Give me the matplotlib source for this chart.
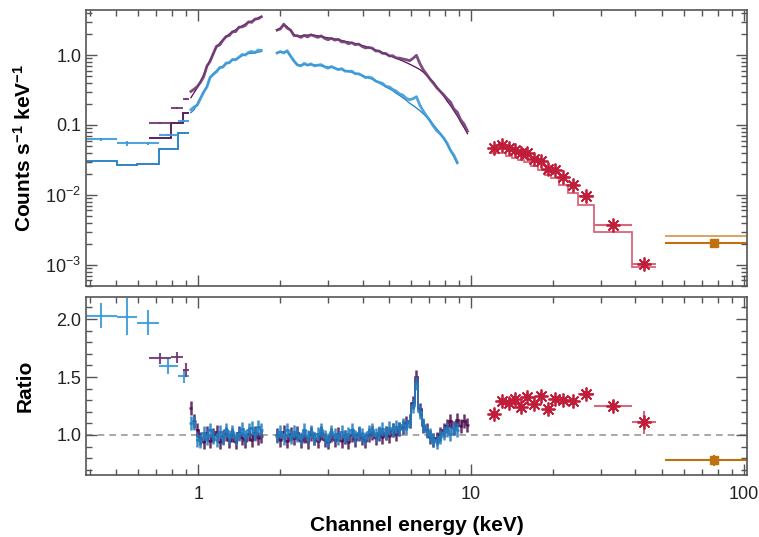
import matplotlib.pyplot as plt
import numpy as np
from matplotlib.ticker import LogLocator, MultipleLocator, NullFormatter

plt.rcParams['font.family'] = ['Liberation Sans', 'DejaVu Sans']
plt.rcParams['mathtext.fontset'] = 'custom'
plt.rcParams['mathtext.rm'] = 'Liberation Sans'
plt.rcParams['mathtext.default'] = 'regular'

# --- colours
pur_dark, pur_light = '#4e1050', '#6e3872'
blue_dark, blue_light = '#1f7cc0', '#3b9ad8'
red_dark, red_light = '#c01d3a', '#d9667a'
org_dark, org_light = '#c0700f', '#d99a52'

# --- low energy coarse bins (keV)
blue_edges = [0.388, 0.504, 0.598, 0.719, 0.842, 0.929]
blue_coarse_model = [0.0308, 0.0271, 0.0278, 0.045, 0.076]
blue_coarse_ratio = [2.03, 2.02, 1.97, 1.595, 1.51]
blue_coarse_err = [0.11, 0.16, 0.11, 0.065, 0.06]

pur_edges = [0.662, 0.796, 0.879, 0.929]
pur_coarse_model = [0.065, 0.106, 0.15]
pur_coarse_ratio = [1.66, 1.67, 1.56]
pur_coarse_err = [0.05, 0.05, 0.06]

# --- dense segment below the gap (keV)
seg_a_e = [0.940, 0.966, 0.992, 1.019, 1.047, 1.076, 1.105, 1.136, 1.167, 1.199,
           1.231, 1.265, 1.300, 1.335, 1.372, 1.410, 1.448, 1.488, 1.529, 1.571,
           1.614, 1.658, 1.703]
pur_a_model = [0.245, 0.29, 0.34, 0.42, 0.52, 0.68, 0.85, 1.05, 1.30, 1.48,
               1.65, 1.82, 2.00, 2.15, 2.30, 2.45, 2.60, 2.78, 2.95, 3.05,
               3.20, 3.40, 3.55]
pur_a_ratio = [1.23, 1.12, 1.04, 0.97, 0.94, 1.02, 0.95, 1.00, 1.03, 0.94,
               0.98, 1.01, 0.95, 1.00, 0.94, 1.02, 0.97, 0.95, 1.01, 0.96,
               1.02, 0.97, 0.99]
blue_a_model = [0.15, 0.165, 0.20, 0.25, 0.29, 0.36, 0.46, 0.54, 0.60, 0.645,
                0.69, 0.74, 0.79, 0.84, 0.88, 0.92, 0.97, 1.02, 1.05, 1.06,
                1.07, 1.10, 1.12]
blue_a_ratio = [1.10, 1.10, 0.96, 0.95, 1.02, 0.97, 1.04, 0.98, 0.96, 1.03,
                0.97, 1.04, 0.98, 1.03, 0.97, 1.01, 1.05, 0.98, 1.04, 1.06,
                1.01, 1.07, 1.04]

# --- dense segment above the gap (keV)
seg_b_e = [1.945, 2.000, 2.058, 2.118, 2.180, 2.244, 2.309, 2.376, 2.445, 2.516,
           2.590, 2.665, 2.743, 2.823, 2.905, 2.989, 3.076, 3.166, 3.258, 3.353,
           3.450, 3.551, 3.654, 3.761, 3.870, 3.983, 4.099, 4.218, 4.341, 4.467,
           4.597, 4.731, 4.869, 5.011, 5.157, 5.307, 5.461, 5.620, 5.784, 5.952,
           6.125, 6.304, 6.487, 6.676, 6.870, 7.070, 7.276, 7.488, 7.706, 7.930,
           8.161, 8.399, 8.643, 8.895, 9.154, 9.420, 9.694]
pur_b_model = [2.27, 2.45, 2.68, 2.55, 2.25, 1.95, 1.85, 1.88, 1.92, 1.93,
               1.93, 1.92, 1.88, 1.84, 1.80, 1.76, 1.73, 1.70, 1.66, 1.62,
               1.57, 1.54, 1.50, 1.46, 1.42, 1.37, 1.33, 1.28, 1.23, 1.18,
               1.13, 1.08, 1.03, 0.98, 0.94, 0.90, 0.86, 0.82, 0.78, 0.74,
               0.70, 0.66, 0.62, 0.57, 0.51, 0.46, 0.41, 0.35, 0.30, 0.26,
               0.22, 0.19, 0.16, 0.135, 0.11, 0.092, 0.075]
pur_b_ratio = [1.00, 0.96, 1.03, 0.95, 1.01, 0.97, 1.02, 0.95, 0.99, 0.94,
               1.01, 0.97, 0.95, 1.02, 0.96, 0.94, 1.00, 0.96, 1.01, 0.95,
               0.98, 0.94, 1.00, 0.96, 1.01, 0.97, 0.95, 1.00, 1.02, 0.97,
               1.01, 0.98, 1.02, 0.99, 1.04, 1.01, 1.05, 1.07, 1.10, 1.12,
               1.28, 1.50, 1.22, 1.08, 1.04, 0.98, 0.96, 0.97, 1.01, 1.04,
               1.08, 1.12, 1.06, 1.13, 1.08, 1.12, 1.09]
blue_b_model = [1.08, 1.09, 1.10, 1.11, 0.98, 0.80, 0.72, 0.72, 0.73, 0.73,
                0.725, 0.72, 0.71, 0.70, 0.69, 0.675, 0.665, 0.65, 0.635, 0.62,
                0.60, 0.58, 0.565, 0.55, 0.53, 0.51, 0.49, 0.47, 0.45, 0.425,
                0.40, 0.375, 0.35, 0.33, 0.31, 0.285, 0.265, 0.245, 0.225, 0.205,
                0.19, 0.175, 0.16, 0.145, 0.13, 0.115, 0.10, 0.088, 0.076, 0.064,
                0.053, 0.043, 0.035, 0.028]
blue_b_ratio = [0.99, 1.03, 0.97, 1.04, 0.98, 1.03, 1.00, 0.97, 1.04, 0.98,
                1.03, 0.97, 1.01, 1.04, 0.98, 0.96, 1.03, 1.00, 0.97, 1.03,
                0.98, 1.01, 1.04, 0.98, 1.02, 1.00, 0.97, 1.03, 1.04, 1.00,
                1.02, 1.05, 1.02, 1.06, 1.04, 1.07, 1.05, 1.09, 1.07, 1.12,
                1.25, 1.45, 1.20, 1.09, 1.03, 1.00, 0.96, 0.94, 0.98, 1.02,
                1.04, 1.01, 1.06, 1.04]

# --- hard X-ray bins (keV)
red_edges = [11.8, 12.5, 13.4, 14.1, 14.9, 15.6, 16.5, 17.6, 18.6, 19.6,
             20.9, 22.6, 24.7, 28.1, 38.8, 47.6]
red_model = [0.0402, 0.0402, 0.0363, 0.0335, 0.0317, 0.0295, 0.0258, 0.0228,
             0.0192, 0.0173, 0.0140, 0.0108, 0.0072, 0.00296, 0.00093]
red_ratio = [1.18, 1.29, 1.28, 1.31, 1.24, 1.33, 1.27, 1.34, 1.22, 1.31,
             1.30, 1.29, 1.35, 1.25, 1.11]
red_err = [0.03, 0.03, 0.03, 0.03, 0.03, 0.03, 0.03, 0.03, 0.03, 0.03,
           0.03, 0.03, 0.03, 0.04, 0.10]

org_edges = [51.3, 118.0]
org_model = [0.00262]
org_ratio = [0.78]
org_err = [0.05]


def edges_from_centres(e):
    e = np.asarray(e)
    mid = np.sqrt(e[:-1] * e[1:])
    return np.concatenate([[e[0] ** 2 / mid[0]], mid, [e[-1] ** 2 / mid[-1]]])


def bin_xerr(edges, centres):
    edges = np.asarray(edges)
    return [centres - edges[:-1], edges[1:] - centres]


fig = plt.figure(figsize=(7.59, 5.37), dpi=100)
ax1 = fig.add_axes([0.1133, 0.4674, 0.8709, 0.514])
ax2 = fig.add_axes([0.1133, 0.1155, 0.8709, 0.3314], sharex=ax1)

# ---------------- coarse bins (blue, purple)
coarse = [
    (blue_edges, blue_coarse_model, blue_coarse_ratio, blue_coarse_err, blue_dark, blue_light),
    (pur_edges, pur_coarse_model, pur_coarse_ratio, pur_coarse_err, pur_dark, pur_light),
]
for edges, model, ratio, err, dark, light in coarse:
    edges_a = np.asarray(edges)
    cen = np.sqrt(edges_a[:-1] * edges_a[1:])
    model = np.asarray(model)
    ratio = np.asarray(ratio)
    err = np.asarray(err)
    ax1.stairs(model, edges_a, color=dark, lw=1.3, baseline=None)
    ax1.errorbar(cen, model * ratio, xerr=bin_xerr(edges_a, cen), yerr=model * err,
                 fmt='none', ecolor=light, elinewidth=1.5, alpha=0.9)
    ax2.errorbar(cen, ratio, xerr=bin_xerr(edges_a, cen), yerr=err,
                 fmt='none', ecolor=light, elinewidth=1.5, alpha=0.9)

# orange bin with square marker
org_e = np.asarray(org_edges)
org_cen = np.sqrt(org_e[:-1] * org_e[1:])
org_m = np.asarray(org_model)
ax1.stairs(org_m, org_e, color=org_light, lw=1.3, baseline=None)
ax1.errorbar(org_cen, org_m * org_ratio, xerr=bin_xerr(org_e, org_cen),
             yerr=org_m * org_err, ls='none', marker='s', ms=6,
             color=org_dark, ecolor=org_dark, elinewidth=1.5)
ax2.errorbar(org_cen, org_ratio, xerr=bin_xerr(org_e, org_cen), yerr=org_err,
             ls='none', marker='s', ms=6, color=org_dark, ecolor=org_dark,
             elinewidth=1.5)

# red asterisks
red_e = np.asarray(red_edges)
red_cen = np.sqrt(red_e[:-1] * red_e[1:])
red_m = np.asarray(red_model)
red_r = np.asarray(red_ratio)
red_er = np.asarray(red_err)
ax1.stairs(red_m, red_e, color=red_light, lw=1.3, baseline=None)
ax1.errorbar(red_cen, red_m * red_r, xerr=bin_xerr(red_e, red_cen), yerr=red_m * red_er,
             ls='none', marker=(8, 2, 0), ms=10, mew=1.3, color=red_dark,
             ecolor=red_light, elinewidth=1.5)
ax2.errorbar(red_cen, red_r, xerr=bin_xerr(red_e, red_cen), yerr=red_er,
             ls='none', marker=(8, 2, 0), ms=10, mew=1.3, color=red_dark,
             ecolor=red_light, elinewidth=1.5)

# ---------------- dense segments (first two low-energy bins stay separate crosses)
dense = [
    (seg_a_e, pur_a_model, pur_a_ratio, pur_dark, pur_light, 2),
    (seg_b_e, pur_b_model, pur_b_ratio, pur_dark, pur_light, 0),
    (seg_a_e, blue_a_model, blue_a_ratio, blue_dark, blue_light, 2),
    (seg_b_e[:len(blue_b_model)], blue_b_model, blue_b_ratio, blue_dark, blue_light, 0),
]
for e, model, ratio, dark, light, start in dense:
    e = np.asarray(e)
    model = np.asarray(model)
    ratio = np.asarray(ratio)
    ax1.plot(e, model, color=dark, lw=0.9)
    ax1.plot(e, model * ratio, color=light, lw=2.0, alpha=0.9)
    edges = edges_from_centres(e)
    ax2.errorbar(e, ratio, xerr=bin_xerr(edges, e), yerr=0.06,
                 fmt='none', ecolor=dark, elinewidth=1.8, alpha=0.85)
    ax2.plot(e[start:], ratio[start:], drawstyle='steps-mid', color=dark,
             lw=1.3, alpha=0.85)

ax2.axhline(1.0, color='#9a9a9a', ls=(0, (4, 3)), lw=1.2, zorder=0)

# ---------------- axes styling
for ax in (ax1, ax2):
    ax.set_xscale('log')
    ax.set_xlim(0.388, 102.5)
    for s in ax.spines.values():
        s.set_color('#555555')
        s.set_linewidth(1.2)
    ax.tick_params(which='both', direction='in', top=True, right=True,
                   color='#555555', width=1.0, labelsize=13, labelcolor='#222222')
    ax.tick_params(which='major', length=8)
    ax.tick_params(which='minor', length=4)
    ax.xaxis.set_minor_locator(LogLocator(base=10, subs=np.arange(2, 10)))
    ax.xaxis.set_minor_formatter(NullFormatter())

ax1.set_yscale('log')
ax1.set_ylim(5.0e-4, 4.4)
ax1.set_yticks([1e-3, 1e-2, 0.1, 1.0])
ax1.set_yticklabels(['10$^{-3}$', '10$^{-2}$', '0.1', '1.0'])
ax1.yaxis.set_minor_locator(LogLocator(base=10, subs=np.arange(2, 10)))
ax1.yaxis.set_minor_formatter(NullFormatter())
ax1.tick_params(labelbottom=False)

ax2.set_ylim(0.655, 2.19)
ax2.set_yticks([1.0, 1.5, 2.0])
ax2.set_yticklabels(['1.0', '1.5', '2.0'])
ax2.yaxis.set_minor_locator(MultipleLocator(0.1))
ax2.set_xticks([1, 10, 100])
ax2.set_xticklabels(['1', '10', '100'])
ax2.tick_params(axis='x', which='major', pad=8)

ax1.set_ylabel('Counts s$^{-1}$ keV$^{-1}$', fontsize=15, fontweight='bold')
ax2.set_ylabel('Ratio', fontsize=15, fontweight='bold')
ax1.yaxis.set_label_coords(-0.078, 0.5)
ax2.yaxis.set_label_coords(-0.078, 0.5)
ax2.set_xlabel('Channel energy (keV)', fontsize=15, fontweight='bold', labelpad=9)

fig.savefig('out.png', dpi=100)
